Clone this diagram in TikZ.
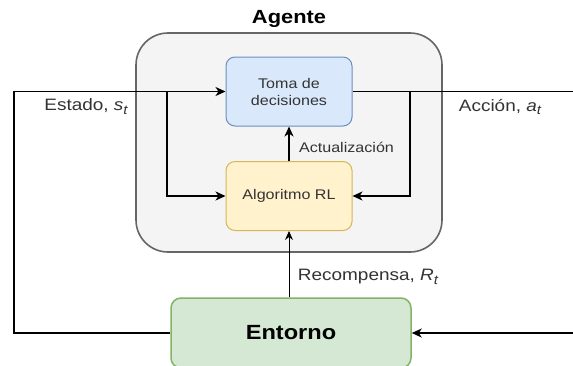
\documentclass[tikz,border=0pt]{standalone}
\usepackage{fontspec}
\setmainfont{Liberation Sans}[FakeStretch=1.15]
\usetikzlibrary{arrows.meta}
\definecolor{bluefill}{HTML}{DAE8FC}
\definecolor{bluedraw}{HTML}{6C8EBF}
\definecolor{yelfill}{HTML}{FFF2CC}
\definecolor{yeldraw}{HTML}{D6B656}
\definecolor{grnfill}{HTML}{D5E8D4}
\definecolor{grndraw}{HTML}{82B366}
\definecolor{grayfill}{HTML}{F4F4F4}
\definecolor{graydraw}{HTML}{666666}
\definecolor{txt}{HTML}{333333}
\newcommand\itsub[2]{\textit{#1}\raisebox{-0.45ex}{\fontsize{13}{13}\selectfont\itshape #2}}
\tikzset{
  box/.style={draw, line width=1pt, rounded corners=9pt, minimum width=126pt, minimum height=69pt, align=center, text=txt, font=\fontsize{14}{17}\selectfont},
  conn/.style={line width=1.8pt, draw=black},
  arr/.style={-{Stealth[length=10pt,width=9pt,inset=3pt]}},
  lbl/.style={text=txt, font=\fontsize{16.5}{19}\selectfont, inner sep=0pt},
}
\begin{document}
\begin{tikzpicture}[x=1pt,y=-1pt]
\useasboundingbox (0,0) rectangle (573,365);
\clip (0,0) rectangle (573,365);
% outer agent box
\draw[fill=grayfill, draw=graydraw, line width=1.6pt, rounded corners=32pt] (136,33) rectangle (442,252);
\node[font=\bfseries\fontsize{19}{22}\selectfont, inner sep=0pt] (title) at (289,19) {Agente};
% boxes
\node[box, fill=bluefill, draw=bluedraw] (toma) at (289,91.5) {Toma de\\decisiones};
\node[box, fill=yelfill, draw=yeldraw] (algo) at (289,196) {Algoritmo RL};
\node[draw=grndraw, fill=grnfill, line width=1.5pt, rounded corners=10pt, minimum width=240pt, minimum height=70pt, font=\bfseries\fontsize{20.5}{24}\selectfont] (ent) at (291,333) {Entorno};
% coordinates
\coordinate (L) at (14,91.5);
\coordinate (bl) at (167,91.5);
\coordinate (br) at (410,91.5);
\coordinate (R) at (590,91.5);
\coordinate (R2) at (590,333);
% connectors
\draw[conn, arr] (ent.west) -| (L) -- (toma.west);
\draw[conn, arr] (bl) |- (algo.west);
\draw[conn] (toma.east) -- (R);
\draw[conn, arr] (br) |- (algo.east);
\draw[conn, arr] (R2) -- (ent.east);
\draw[conn, arr] (algo.north) -- (toma.south);
\draw[line width=1pt, -{Stealth[length=9pt,width=8pt,inset=3pt]}] (ent.north -| algo.south) -- (algo.south);
% labels
\node[lbl] (est) at (86,107) {Estado, \itsub{s}{t}};
\node[lbl] (acc) at (500,107) {Acción, \itsub{a}{t}};
\node[lbl, font=\fontsize{14}{17}\selectfont] (act) at (346.5,147) {Actualización};
\node[lbl] (rec) at (368,277) {Recompensa, \itsub{R}{t}};
\end{tikzpicture}
\end{document}
